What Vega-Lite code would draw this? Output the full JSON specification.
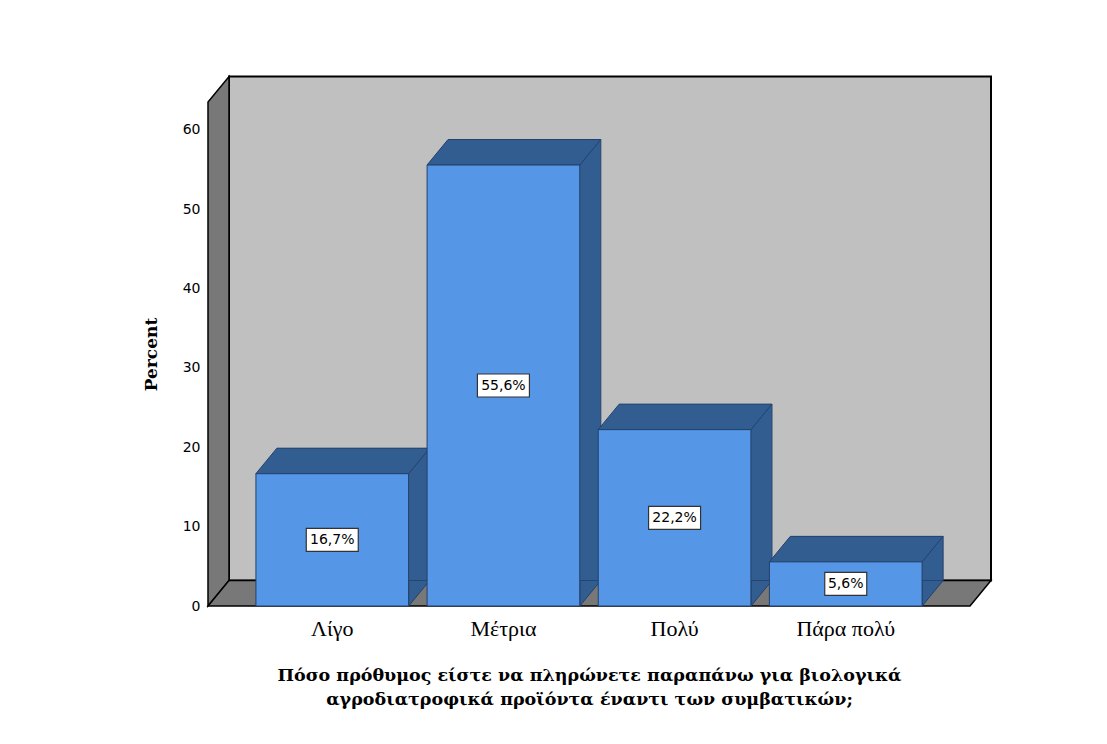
{
  "$schema": "https://vega.github.io/schema/vega-lite/v6.json",
  "width": 762,
  "height": 504,
  "autosize": {"type": "none"},
  "padding": {"left": 208, "top": 102, "right": 137, "bottom": 138},
  "background": "white",
  "config": {
    "view": {"stroke": null},
    "locale": {"number": {"decimal": ",", "thousands": ".", "grouping": [3], "currency": ["", " €"]}},
    "axis": {"grid": false, "ticks": false, "domain": false}
  },
  "layer": [
    {
      "data": {"values": [{"floor": 0}]},
      "encoding": {
        "y": {
          "field": "floor", "type": "quantitative",
          "scale": {"domain": [0, 0.635], "nice": false},
          "axis": {
            "orient": "left", "title": "Percent", "format": ".0%", "labelExpr": "replace(datum.label, '%', '')",
            "values": [0, 0.1, 0.2, 0.3, 0.4, 0.5, 0.6],
            "labelFont": "DejaVu Sans", "labelFontSize": 14, "labelColor": "#000000", "labelPadding": 8,
            "titleFont": "DejaVu Serif", "titleFontSize": 17, "titleFontWeight": "bold", "titleColor": "#000000",
            "titlePadding": 22
          }
        }
      },
      "layer": [
        {
          "mark": {"type": "point", "shape": "M -3.6 -0.255 L 4.02 -0.255 L 4.02 -5.295 L -3.6 -5.295 Z", "size": 40000, "filled": true, "fill": "#C0C0C0", "stroke": "#000000", "strokeWidth": 2, "opacity": 1}
        },
        {
          "mark": {"type": "point", "shape": "M -3.81 0 L -3.81 -5.04 L -3.6 -5.295 L -3.6 -0.255 Z", "size": 40000, "filled": true, "fill": "#787878", "stroke": "#000000", "strokeWidth": 1.5, "opacity": 1}
        },
        {
          "mark": {"type": "point", "shape": "M -3.81 0 L 3.81 0 L 4.02 -0.255 L -3.6 -0.255 Z", "size": 40000, "filled": true, "fill": "#787878", "stroke": "#000000", "strokeWidth": 1.5, "opacity": 1}
        }
      ]
    },
    {
      "data": {"values": [
        {"cat": "Λίγο", "share": 0.1667},
        {"cat": "Μέτρια", "share": 0.5556},
        {"cat": "Πολύ", "share": 0.2222},
        {"cat": "Πάρα πολύ", "share": 0.0556}
      ]},
      "encoding": {
        "x": {
          "field": "cat", "type": "nominal", "sort": null,
          "scale": {"paddingInner": 0.108, "paddingOuter": 0.28},
          "axis": {
            "title": ["Πόσο πρόθυμος είστε να πληρώνετε παραπάνω για βιολογικά", "αγροδιατροφικά προϊόντα έναντι των συμβατικών;"],
            "labelAngle": 0, "labelFont": "Liberation Serif", "labelFontSize": 22, "labelColor": "#000000", "labelPadding": 12,
            "titleFont": "DejaVu Serif", "titleFontWeight": "bold", "titleFontSize": 17.5, "titleColor": "#000000",
            "titlePadding": 27, "titleLineHeight": 24
          }
        },
        "y": {
          "field": "share", "type": "quantitative",
          "axis": {
            "orient": "left", "title": "Percent", "format": ".0%", "labelExpr": "replace(datum.label, '%', '')",
            "values": [0, 0.1, 0.2, 0.3, 0.4, 0.5, 0.6],
            "labelFont": "DejaVu Sans", "labelFontSize": 14, "labelColor": "#000000", "labelPadding": 8,
            "titleFont": "DejaVu Serif", "titleFontSize": 17, "titleFontWeight": "bold", "titleColor": "#000000",
            "titlePadding": 22
          }
        }
      },
      "layer": [
        {
          "mark": {"type": "bar", "fill": "#325D91", "xOffset": 21, "x2Offset": 21, "yOffset": -25.5, "y2Offset": -25.5}
        },
        {
          "mark": {"type": "rule", "stroke": "#23416A", "strokeWidth": 1, "xOffset": 97.4, "yOffset": -25.5, "y2Offset": -25.5},
          "encoding": {"y2": {"datum": 0}}
        },
        {
          "mark": {"type": "point", "shape": "M 0.764 -0.255 L 0.764 0 L 0.974 -0.255", "size": 40000, "filled": true, "fill": "#325D91", "stroke": "#23416A", "strokeWidth": 1, "opacity": 1},
          "encoding": {
            "y": {
              "datum": 0, "type": "quantitative",
              "axis": {
                "orient": "left", "title": "Percent", "format": ".0%", "labelExpr": "replace(datum.label, '%', '')",
                "values": [0, 0.1, 0.2, 0.3, 0.4, 0.5, 0.6],
                "labelFont": "DejaVu Sans", "labelFontSize": 14, "labelColor": "#000000", "labelPadding": 8,
                "titleFont": "DejaVu Serif", "titleFontSize": 17, "titleFontWeight": "bold", "titleColor": "#000000",
                "titlePadding": 22
              }
            }
          }
        },
        {
          "mark": {"type": "point", "shape": "M -0.764 0 L 0.764 0 L 0.974 -0.255 L -0.554 -0.255 Z", "size": 40000, "filled": true, "fill": "#325D91", "stroke": "#23416A", "strokeWidth": 1, "opacity": 1}
        },
        {
          "mark": {"type": "bar", "fill": "#5596E6", "stroke": "#23416A", "strokeWidth": 1}
        },
        {
          "mark": {"type": "point", "size": 40000, "filled": true, "fill": "#FFFFFF", "stroke": "#333333", "strokeWidth": 1.2, "opacity": 1},
          "encoding": {
            "y": {
              "field": "share", "type": "quantitative", "stack": "zero", "bandPosition": 0.5,
              "axis": {
                "orient": "left", "title": "Percent", "format": ".0%", "labelExpr": "replace(datum.label, '%', '')",
                "values": [0, 0.1, 0.2, 0.3, 0.4, 0.5, 0.6],
                "labelFont": "DejaVu Sans", "labelFontSize": 14, "labelColor": "#000000", "labelPadding": 8,
                "titleFont": "DejaVu Serif", "titleFontSize": 17, "titleFontWeight": "bold", "titleColor": "#000000",
                "titlePadding": 22
              }
            },
            "shape": {
              "field": "cat", "type": "nominal", "legend": null,
              "scale": {
                "domain": ["Λίγο", "Μέτρια", "Πολύ", "Πάρα πολύ"],
                "range": [
                  "M -0.26 -0.115 L 0.26 -0.115 L 0.26 0.115 L -0.26 0.115 Z",
                  "M -0.26 -0.115 L 0.26 -0.115 L 0.26 0.115 L -0.26 0.115 Z",
                  "M -0.26 -0.115 L 0.26 -0.115 L 0.26 0.115 L -0.26 0.115 Z",
                  "M -0.21 -0.115 L 0.21 -0.115 L 0.21 0.115 L -0.21 0.115 Z"
                ]
              }
            }
          }
        },
        {
          "mark": {"type": "text", "font": "DejaVu Sans", "fontSize": 14, "color": "#000000", "align": "center", "baseline": "middle"},
          "encoding": {
            "y": {
              "field": "share", "type": "quantitative", "stack": "zero", "bandPosition": 0.5,
              "axis": {
                "orient": "left", "title": "Percent", "format": ".0%", "labelExpr": "replace(datum.label, '%', '')",
                "values": [0, 0.1, 0.2, 0.3, 0.4, 0.5, 0.6],
                "labelFont": "DejaVu Sans", "labelFontSize": 14, "labelColor": "#000000", "labelPadding": 8,
                "titleFont": "DejaVu Serif", "titleFontSize": 17, "titleFontWeight": "bold", "titleColor": "#000000",
                "titlePadding": 22
              }
            },
            "text": {"field": "share", "type": "quantitative", "format": ".1%"}
          }
        }
      ]
    }
  ]
}
